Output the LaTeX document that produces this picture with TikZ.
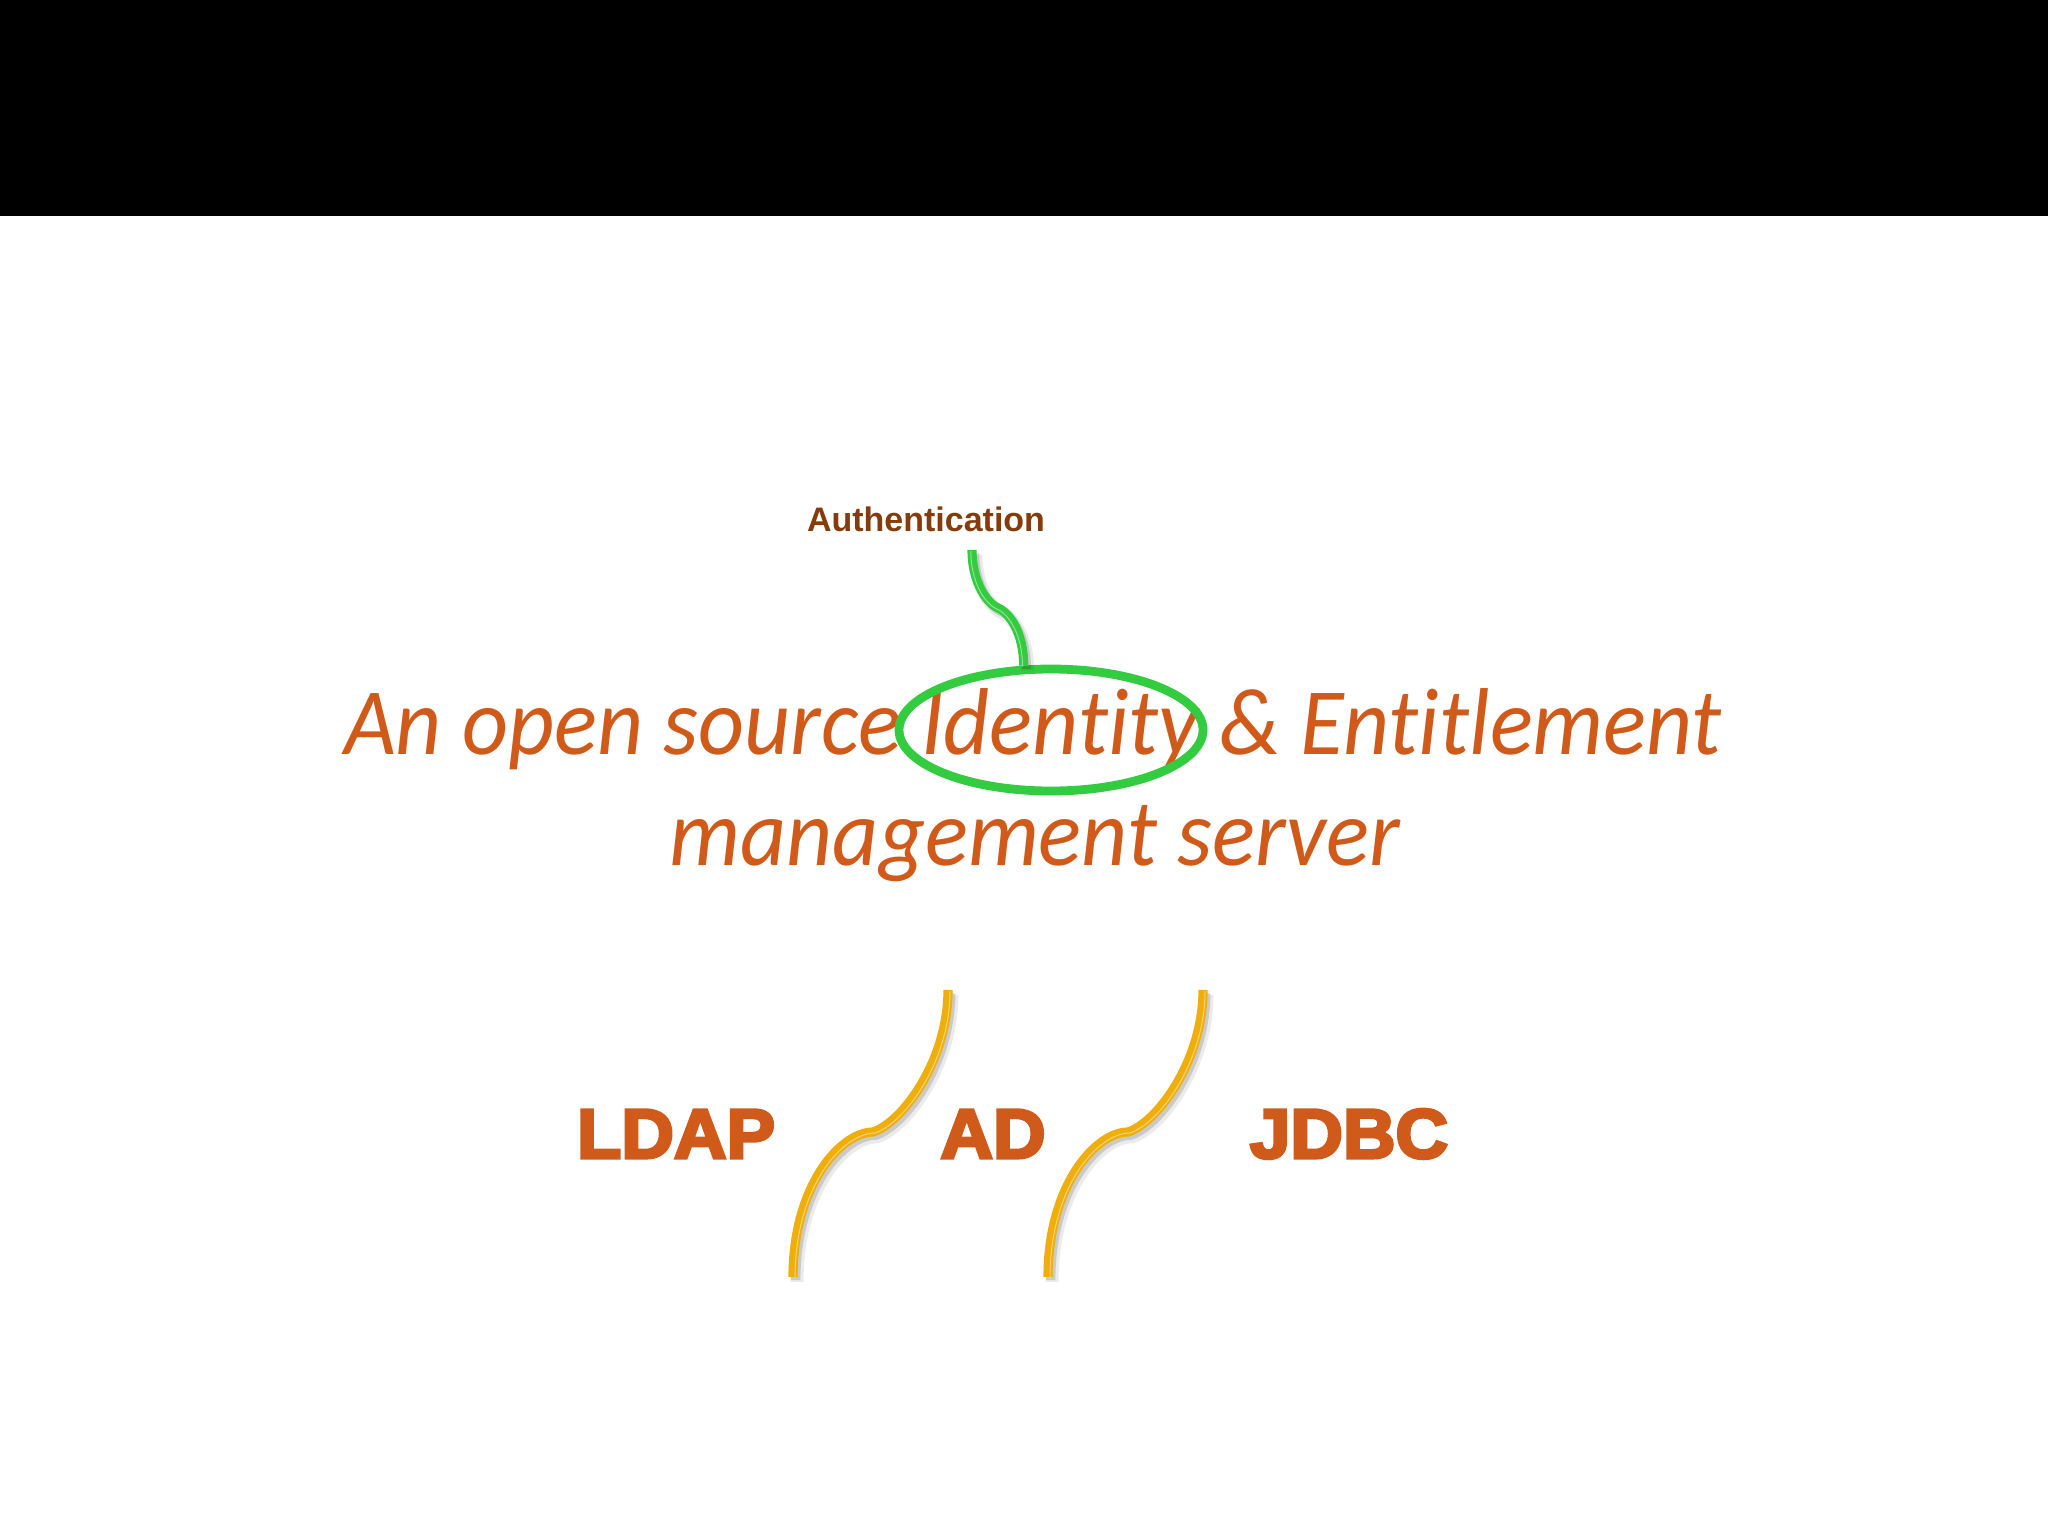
\documentclass[tikz,border=0pt]{standalone}
\usepackage{fontspec}
\usetikzlibrary{positioning,shapes.geometric}
\newfontfamily\titlefont[Ligatures=NoCommon,FakeStretch=0.944]{Carlito}
\newfontfamily\labelfont{Liberation Sans}
\newfontfamily\heavyfont[FakeBold=4.4,FakeStretch=1.04]{Liberation Sans Bold}
\definecolor{rust}{HTML}{D05A1A}
\definecolor{umber}{HTML}{843C0C}
\definecolor{ringgreen}{HTML}{33CC40}
\definecolor{curveyellow}{HTML}{EFAE0A}
\tikzset{
  title/.style={text=rust,font=\titlefont\itshape\fontsize{47.5}{50}\selectfont,inner sep=0pt,anchor=base},
  backend/.style={text=rust,font=\heavyfont\fontsize{35}{37}\selectfont,inner sep=0pt,anchor=base},
  curve/.style={line width=4.6pt,
    preaction={draw=black,opacity=.08,line width=6.5pt,transform canvas={xshift=2pt,yshift=-2.4pt}},
    preaction={draw=black,opacity=.14,line width=4.6pt,transform canvas={xshift=1.4pt,yshift=-1.6pt}}},
  glint/.style={postaction={draw=white,opacity=.45,line width=.5pt,transform canvas={xshift=#1,yshift=-.5pt}}}
}
\begin{document}
\begin{tikzpicture}[x=0.5pt,y=-0.5pt,node distance=100pt]
  \useasboundingbox (0,0) rectangle (2048,1536);
  \fill[black] (0,0) rectangle (2048,216);

  \node[title] (line1) at (1033,754) {An open source Identity \& Entitlement};
  \node[title] (line2) at (1035,865) {management server};
  \node[inner sep=0pt,anchor=base,text=umber,font=\labelfont\bfseries\fontsize{17}{19}\selectfont]
    (auth) at (926,531) {Authentication};

  \node[backend] (LDAP) at (676,1158) {LDAP};
  \node[backend,anchor=base] (AD) [right of=LDAP,node distance=158.5pt] {AD};
  \node[backend,anchor=base] (JDBC) [right of=AD,node distance=178pt] {JDBC};

  \node[draw=ringgreen,ellipse,line width=4.4pt,inner sep=0pt,minimum width=152pt,minimum height=61pt]
    (ring) at (1051,730) {};

  \coordinate (authfoot) at (972,550);
  \coordinate (authbend) at (998,608);
  \draw[curve,glint=-.6pt,ringgreen] (authfoot) .. controls +(0,30) and +(-13,-6) .. (authbend)
    .. controls +(12,5) and +(0,-32) .. (ring.113);

  \foreach \n/\x in {1/948,2/1203} {
    \coordinate (top\n) at (\x,990);
    \coordinate (mid\n) at (\x-75,1132);
    \coordinate (low\n) at (\x-155,1277);
    \draw[curve,glint=1pt,curveyellow] (top\n) .. controls +(0,70) and +(30,-10) .. (mid\n)
      .. controls +(-32,0) and +(0,-92) .. (low\n);
  }
\end{tikzpicture}
\end{document}
